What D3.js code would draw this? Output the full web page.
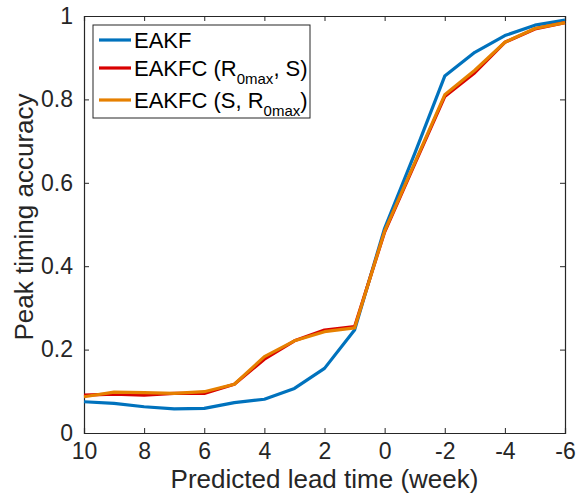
<!DOCTYPE html>
<html>
<head>
<meta charset="utf-8">
<script src="https://cdn.jsdelivr.net/npm/d3@7"></script>
<style>
  body { margin: 0; background: #fff; }
  text { font-family: "Liberation Sans", Arial, Helvetica, sans-serif; }
</style>
</head>
<body>
<script>
// Lead times (weeks), plotted from 10 down to -6
const leadTimes = [10, 9, 8, 7, 6, 5, 4, 3, 2, 1, 0, -1, -2, -3, -4, -5, -6];

// Peak timing accuracy for each method
const eakf     = [0.075, 0.071, 0.063, 0.058, 0.059, 0.073, 0.081, 0.107, 0.155, 0.247, 0.491, 0.670, 0.856, 0.913, 0.953, 0.978, 0.990];
const eakfcRS  = [0.091, 0.093, 0.091, 0.095, 0.095, 0.117, 0.177, 0.221, 0.247, 0.255, 0.482, 0.645, 0.807, 0.864, 0.937, 0.969, 0.984];
const eakfcSR  = [0.087, 0.098, 0.097, 0.095, 0.099, 0.117, 0.183, 0.221, 0.243, 0.252, 0.484, 0.648, 0.811, 0.870, 0.937, 0.970, 0.984];

const xTicks = [10, 8, 6, 4, 2, 0, -2, -4, -6];
const yTicks = [0, 0.2, 0.4, 0.6, 0.8, 1];

const series = [
  { name: "EAKF", values: eakf, color: "#0072BD" },
  { name: "EAKFC (R0max, S)", values: eakfcRS, color: "#D90000" },
  { name: "EAKFC (S, R0max)", values: eakfcSR, color: "#E68000" }
];

const margin = { top: 16, right: 14, bottom: 66, left: 84 },
    width = 579 - margin.left - margin.right,
    height = 499 - margin.top - margin.bottom;

const svg = d3.select("body")
    .append("svg")
    .attr("width", 579)
    .attr("height", 499);

const g = svg.append("g")
    .attr("transform", `translate(${margin.left},${margin.top})`);

const x = d3.scaleLinear().domain([10, -6]).range([0, width]);
const y = d3.scaleLinear().domain([0, 1]).range([height, 0]);

const axisColor = "#262626";
const tickLen = 5;

// Axes (MATLAB style: ticks inward, box)
const xAxis = g.append("g")
    .attr("transform", `translate(0,${height})`)
    .call(d3.axisBottom(x).tickValues(xTicks).tickSize(-tickLen).tickPadding(10).tickFormat(d => String(d)));
const yAxis = g.append("g")
    .call(d3.axisLeft(y).tickValues(yTicks).tickSize(-tickLen).tickPadding(11).tickFormat(d => d === 0 || d === 1 ? d : d3.format(".1f")(d)));
const xTop = g.append("g")
    .call(d3.axisTop(x).tickValues(xTicks).tickSize(-tickLen).tickFormat(""));
const yRight = g.append("g")
    .attr("transform", `translate(${width},0)`)
    .call(d3.axisRight(y).tickValues(yTicks).tickSize(-tickLen).tickFormat(""));

[xAxis, yAxis, xTop, yRight].forEach(a => {
  a.select(".domain").attr("stroke", axisColor).attr("stroke-width", 1.2);
  a.selectAll(".tick line").attr("stroke", axisColor).attr("stroke-width", 1);
  a.selectAll(".tick text")
    .attr("fill", axisColor)
    .style("font-size", "23px")
    .style("font-family", "'Liberation Sans', Arial, sans-serif");
});

// Lines
const line = d3.line()
    .x((d, i) => x(leadTimes[i]))
    .y(d => y(d));

series.forEach(s => {
  g.append("path")
    .datum(s.values)
    .attr("fill", "none")
    .attr("stroke", s.color)
    .attr("stroke-width", 3.2)
    .attr("stroke-linejoin", "round")
    .attr("d", line);
});

// Axis labels
svg.append("text")
    .attr("x", margin.left + width / 2)
    .attr("y", 488)
    .attr("text-anchor", "middle")
    .attr("fill", axisColor)
    .style("font-size", "26px")
    .text("Predicted lead time (week)");

svg.append("text")
    .attr("transform", `translate(33,217) rotate(-90)`)
    .attr("text-anchor", "middle")
    .attr("fill", axisColor)
    .style("font-size", "26px")
    .text("Peak timing accuracy");

// Legend
const legend = svg.append("g").attr("transform", "translate(93,25)");
legend.append("rect")
    .attr("width", 217)
    .attr("height", 93)
    .attr("fill", "#fff")
    .attr("stroke", axisColor)
    .attr("stroke-width", 1);

const rowY = [15, 43, 75];
series.forEach((s, i) => {
  legend.append("line")
    .attr("x1", 6).attr("x2", 38)
    .attr("y1", rowY[i]).attr("y2", rowY[i])
    .attr("stroke", s.color)
    .attr("stroke-width", 3.2);
  const t = legend.append("text")
    .attr("x", 41)
    .attr("y", rowY[i] + 8)
    .attr("fill", "#000")
    .style("font-size", "22px");
  if (i === 0) {
    t.text("EAKF");
  } else if (i === 1) {
    t.append("tspan").text("EAKFC (R");
    t.append("tspan").attr("dy", 8).style("font-size", "15px").text("0max");
    t.append("tspan").attr("dy", -8).text(", S)");
  } else {
    t.append("tspan").text("EAKFC (S, R");
    t.append("tspan").attr("dy", 8).style("font-size", "15px").text("0max");
    t.append("tspan").attr("dy", -8).text(")");
  }
});
</script>
</body>
</html>
